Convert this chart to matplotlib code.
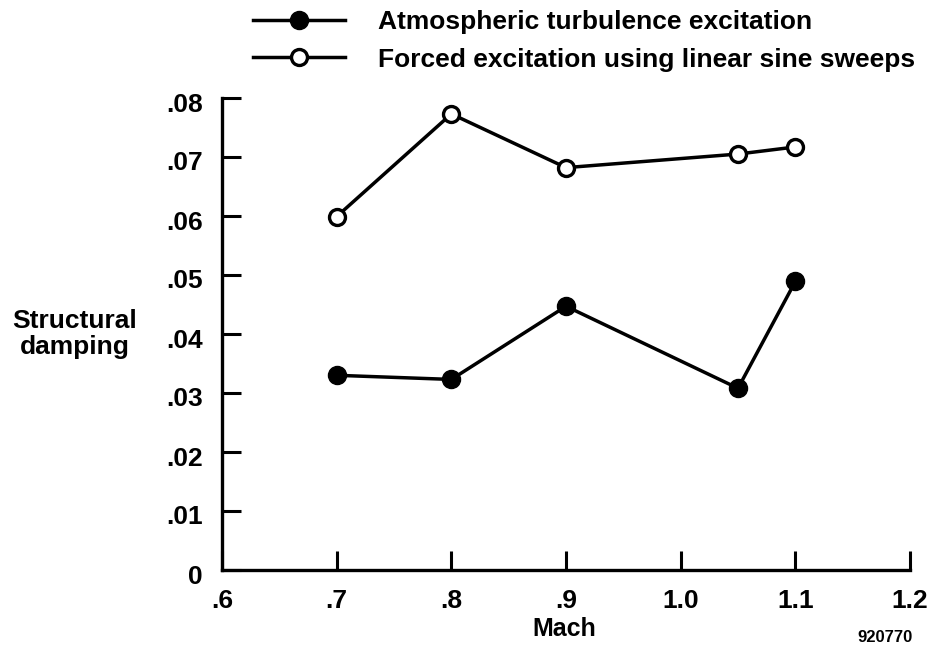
import matplotlib
matplotlib.use("Agg")
import matplotlib.pyplot as plt
import matplotlib.transforms as mtransforms
from matplotlib.lines import Line2D

plt.rcParams['font.family'] = ['Liberation Sans', 'DejaVu Sans']
plt.rcParams['font.weight'] = 'bold'

# Mach numbers and structural damping for the two excitation methods
mach = [0.7, 0.8, 0.9, 1.05, 1.1]
damping_turbulence = [0.0330, 0.0323, 0.0447, 0.0308, 0.0489]
damping_sine_sweep = [0.0599, 0.0773, 0.0682, 0.0705, 0.0717]

series_labels = ["Atmospheric turbulence excitation",
                 "Forced excitation using linear sine sweeps"]

x_ticks = [0.6, 0.7, 0.8, 0.9, 1.0, 1.1, 1.2]
x_tick_labels = [".6", ".7", ".8", ".9", "1.0", "1.1", "1.2"]
y_ticks = [0, 0.01, 0.02, 0.03, 0.04, 0.05, 0.06, 0.07, 0.08]
y_tick_labels = ["0", ".01", ".02", ".03", ".04", ".05", ".06", ".07", ".08"]

W, H = 930, 649
fig = plt.figure(figsize=(W / 100, H / 100), dpi=100)
ax = fig.add_axes([222 / W, 1 - 570 / H, (910 - 222) / W, (570 - 98) / H])

lw = 2.5
ax.plot(mach, damping_turbulence, color='black', lw=lw, marker='o',
        markersize=13, markerfacecolor='black', markeredgecolor='black',
        clip_on=False, zorder=3)
ax.plot(mach, damping_sine_sweep, color='black', lw=lw, marker='o',
        markersize=11.5, markerfacecolor='white', markeredgecolor='black',
        markeredgewidth=2.4, clip_on=False, zorder=3)

ax.set_xlim(0.6, 1.2)
ax.set_ylim(0, 0.08)
ax.set_xticks(x_ticks)
ax.set_xticklabels(x_tick_labels)
ax.set_yticks(y_ticks)
ax.set_yticklabels(y_tick_labels)

for side in ('top', 'right'):
    ax.spines[side].set_visible(False)
for side in ('left', 'bottom'):
    ax.spines[side].set_linewidth(2.4)

ax.tick_params(axis='both', direction='in', length=14, width=2.2,
               labelsize=19, pad=14)
# y tick labels sit a little below their ticks
shift = mtransforms.ScaledTranslation(0, -0.04, fig.dpi_scale_trans)
for lab in ax.get_yticklabels():
    lab.set_transform(lab.get_transform() + shift)
for lab in ax.get_xticklabels() + ax.get_yticklabels():
    lab.set_fontweight('bold')

# Axis titles placed in figure pixel coordinates
fig.text(75 / W, 1 - 334 / H, "Structural\ndamping", ha='center', va='center',
         fontsize=19, fontweight='bold', linespacing=1.12)
fig.text(564 / W, 1 - 629 / H, "Mach", ha='center', va='center',
         fontsize=18, fontweight='bold')
fig.text(913 / W, 1 - 638 / H, "920770", ha='right', va='center',
         fontsize=12, fontweight='bold')

# Legend at top of figure
handles = [
    Line2D([], [], color='black', lw=lw, marker='o', markersize=13,
           markerfacecolor='black', markeredgecolor='black'),
    Line2D([], [], color='black', lw=lw, marker='o', markersize=11.5,
           markerfacecolor='white', markeredgecolor='black',
           markeredgewidth=2.4),
]
fig.legend(handles, series_labels, loc='upper left',
           bbox_to_anchor=(253 / W, 1 - 10 / H), frameon=False,
           prop={'size': 19, 'weight': 'bold'}, handlelength=3.5,
           handletextpad=1.25, labelspacing=0.52, borderaxespad=0,
           borderpad=0)

fig.savefig("out.png", dpi=100)
